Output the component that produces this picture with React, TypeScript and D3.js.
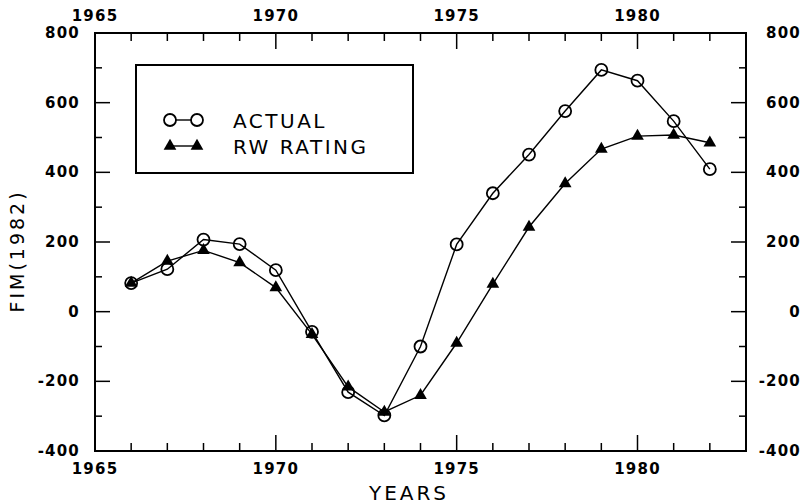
import React, { useRef, useEffect } from "react";
import * as d3 from "d3";

const years = [1966, 1967, 1968, 1969, 1970, 1971, 1972, 1973, 1974, 1975, 1976, 1977, 1978, 1979, 1980, 1981, 1982];
const actual = [82, 122, 207, 194, 119, -58, -231, -298, -100, 193, 340, 451, 576, 694, 663, 547, 409];
const rwRating = [82, 145, 176, 141, 69, -65, -216, -288, -240, -90, 79, 243, 368, 467, 504, 507, 485];
const yearLabels = [1965, 1970, 1975, 1980];
const yTicks = [-400, -200, 0, 200, 400, 600, 800];

const FONT = "'DejaVu Sans', sans-serif";

export default function App() {
  const svgRef = useRef<SVGSVGElement>(null);

  useEffect(() => {
    const width = 803;
    const height = 504;
    const left = 95;
    const right = 746;
    const top = 33;
    const bottom = 451;

    const svg = d3.select(svgRef.current);
    svg.selectAll("*").remove();

    const x = d3.scaleLinear().domain([1965, 1983]).range([left, right]);
    const y = d3.scaleLinear().domain([-400, 800]).range([bottom, top]);

    // frame
    svg.append("rect")
      .attr("x", left).attr("y", top)
      .attr("width", right - left).attr("height", bottom - top)
      .attr("fill", "none").attr("stroke", "#000").attr("stroke-width", 2);

    // year ticks, inward on top and bottom
    const yearTicks = d3.range(1965, 1984);
    const g = svg.append("g").attr("stroke", "#000").attr("stroke-width", 1.5);
    yearTicks.forEach((yr) => {
      const len = yr % 5 === 0 ? 16 : 8;
      g.append("line").attr("x1", x(yr)).attr("x2", x(yr)).attr("y1", bottom).attr("y2", bottom - len);
      g.append("line").attr("x1", x(yr)).attr("x2", x(yr)).attr("y1", top).attr("y2", top + len);
    });

    // value ticks, inward on left and right
    d3.range(-400, 801, 100).forEach((v) => {
      const len = v % 200 === 0 ? 15 : 7;
      g.append("line").attr("x1", left).attr("x2", left + len).attr("y1", y(v)).attr("y2", y(v));
      g.append("line").attr("x1", right).attr("x2", right - len).attr("y1", y(v)).attr("y2", y(v));
    });

    const labelStyle = (sel: any) =>
      sel.attr("font-family", FONT).attr("font-size", 15).attr("font-weight", "bold")
        .attr("fill", "#000").attr("letter-spacing", 1.2);

    yearLabels.forEach((yr) => {
      labelStyle(svg.append("text")).attr("x", x(yr)).attr("y", 21)
        .attr("text-anchor", "middle").text(yr);
      labelStyle(svg.append("text")).attr("x", x(yr)).attr("y", 474)
        .attr("text-anchor", "middle").text(yr);
    });

    yTicks.forEach((v) => {
      const t = v < 0 ? `-${Math.abs(v)}` : `${v}`;
      labelStyle(svg.append("text")).attr("x", 80).attr("y", y(v) + 5)
        .attr("text-anchor", "end").text(t);
      labelStyle(svg.append("text")).attr("x", 801).attr("y", y(v) + 5)
        .attr("text-anchor", "end").text(t);
    });

    // axis titles
    svg.append("text")
      .attr("transform", `translate(24,251) rotate(-90)`)
      .attr("text-anchor", "middle")
      .attr("font-family", FONT).attr("font-size", 19).attr("letter-spacing", 3)
      .text("FIM(1982)");

    svg.append("text")
      .attr("x", 409).attr("y", 500)
      .attr("text-anchor", "middle")
      .attr("font-family", FONT).attr("font-size", 20).attr("letter-spacing", 3)
      .text("YEARS");

    const line = d3.line<number>()
      .x((_, i) => x(years[i]))
      .y((d) => y(d));

    svg.append("path").datum(rwRating)
      .attr("d", line).attr("fill", "none").attr("stroke", "#000").attr("stroke-width", 1.4);
    svg.append("path").datum(actual)
      .attr("d", line).attr("fill", "none").attr("stroke", "#000").attr("stroke-width", 1.4);

    const tri = d3.symbol().type(d3.symbolTriangle).size(70);

    svg.append("g").selectAll("path")
      .data(rwRating)
      .join("path")
      .attr("transform", (d, i) => `translate(${x(years[i])},${y(d)})`)
      .attr("d", tri())
      .attr("fill", "#000");

    svg.append("g").selectAll("circle")
      .data(actual)
      .join("circle")
      .attr("cx", (_, i) => x(years[i]))
      .attr("cy", (d) => y(d))
      .attr("r", 6)
      .attr("fill", "none")
      .attr("stroke", "#000")
      .attr("stroke-width", 1.8);

    // legend
    svg.append("rect")
      .attr("x", 136).attr("y", 65).attr("width", 277).attr("height", 108)
      .attr("fill", "#fff").attr("stroke", "#000").attr("stroke-width", 2);

    const lg = svg.append("g");
    lg.append("line").attr("x1", 170).attr("x2", 197).attr("y1", 120).attr("y2", 120)
      .attr("stroke", "#000").attr("stroke-width", 1.4);
    [170, 197].forEach((cx) => {
      lg.append("circle").attr("cx", cx).attr("cy", 120).attr("r", 6)
        .attr("fill", "#fff").attr("stroke", "#000").attr("stroke-width", 1.8);
    });
    lg.append("line").attr("x1", 170).attr("x2", 197).attr("y1", 146).attr("y2", 146)
      .attr("stroke", "#000").attr("stroke-width", 1.4);
    [170, 197].forEach((cx) => {
      lg.append("path").attr("transform", `translate(${cx},146)`).attr("d", tri()).attr("fill", "#000");
    });
    lg.append("text").attr("x", 233).attr("y", 128)
      .attr("font-family", FONT).attr("font-size", 20).attr("letter-spacing", 2.5)
      .text("ACTUAL");
    lg.append("text").attr("x", 233).attr("y", 154)
      .attr("font-family", FONT).attr("font-size", 20).attr("letter-spacing", 2.5)
      .text("RW RATING");

    svg.attr("width", width).attr("height", height);
  }, []);

  return (
    <div style={{ position: "absolute", left: 0, top: 0 }}>
      <svg ref={svgRef} width={803} height={504} style={{ display: "block", background: "#fff" }} />
    </div>
  );
}
